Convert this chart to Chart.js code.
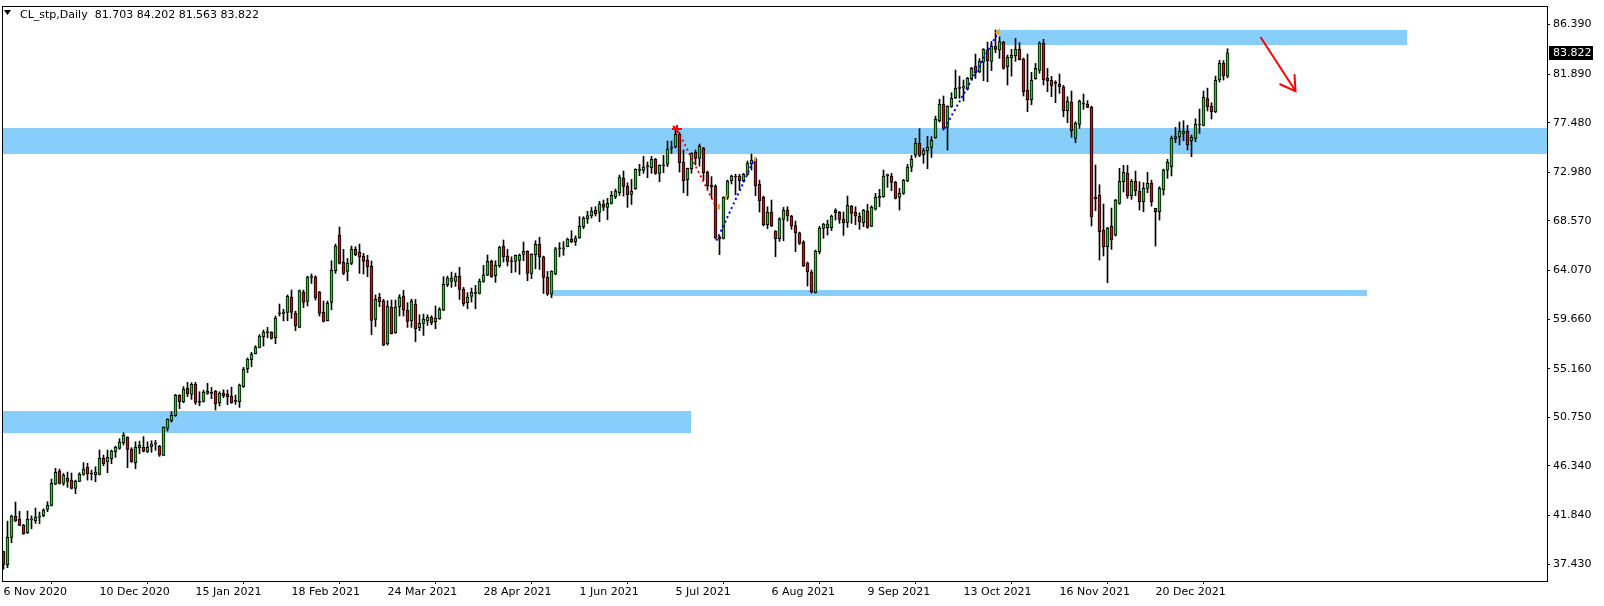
<!DOCTYPE html>
<html>
<head>
<meta charset="utf-8">
<style>
  html, body { margin: 0; padding: 0; background: #ffffff; }
  canvas { display: block; }
</style>
<script src="https://cdn.jsdelivr.net/npm/chart.js@4.4.1/dist/chart.umd.min.js"></script>
</head>
<body>
<canvas id="c" width="1604" height="606"></canvas>
<script>
// ---------------- data ----------------
const symbolName = 'CL_stp';
const periodName = 'Daily';

const opens = [38.55,37.37,39.85,41.75,41.51,40.97,40.27,41.45,41.36,41.69,
41.79,42.39,42.75,44.69,45.84,44.75,45.24,45.05,44.30,44.93,
45.57,46.20,45.66,45.54,45.57,47.05,46.69,46.99,47.63,47.93,
48.44,48.93,47.87,46.63,47.96,48.02,47.66,48.08,48.32,48.14,
47.29,49.74,50.44,50.89,52.74,52.16,53.37,52.83,53.74,52.20,
52.20,52.92,53.01,53.13,52.07,52.95,52.86,52.68,52.25,52.16,
53.52,55.16,55.98,56.52,57.10,58.06,58.43,58.49,57.97,60.15,
60.18,60.27,61.63,60.21,58.91,62.12,61.27,63.45,63.48,62.12,
60.27,59.52,61.18,64.05,67.26,64.81,63.99,64.72,65.99,65.72,
65.39,64.99,64.45,59.64,61.63,61.33,57.40,60.76,58.43,60.79,
61.75,60.48,59.50,61.03,58.88,59.27,59.50,59.85,59.42,59.70,
60.48,62.78,63.08,63.08,63.57,62.36,61.15,61.72,61.99,61.99,
63.08,63.66,64.90,63.60,64.51,66.26,65.38,64.93,64.90,64.99,
65.54,65.81,63.81,65.51,66.44,65.32,63.45,61.93,63.75,66.05,
66.02,66.23,66.90,66.69,67.05,68.05,68.77,69.02,69.53,69.35,
70.10,69.80,70.17,70.77,71.13,72.44,71.71,70.98,71.50,73.16,
73.16,73.50,73.40,74.16,72.89,73.58,73.71,75.16,75.31,76.43,
73.89,72.31,73.31,74.80,74.25,75.16,73.01,71.80,71.71,67.14,
66.99,70.71,72.22,72.62,72.65,72.22,72.80,73.74,74.19,71.92,
70.71,68.23,69.38,67.66,66.96,68.71,69.59,69.02,68.14,67.50,
66.66,64.75,63.93,62.06,65.78,67.90,67.96,67.96,69.56,69.38,
68.74,68.44,69.92,69.38,69.02,68.41,69.44,68.08,69.65,70.65,
70.77,72.68,72.65,72.10,70.71,71.07,72.19,73.46,74.55,75.61,
74.58,74.95,75.25,76.13,77.67,79.15,77.06,78.94,79.76,80.60,
80.63,80.54,81.48,82.63,82.09,82.99,84.08,83.06,84.45,84.08,
84.78,82.57,83.39,83.57,84.15,83.27,80.42,79.58,81.48,82.24,
84.69,81.51,81.33,81.12,80.97,80.73,78.58,79.37,76.07,77.34,
79.24,79.18,78.88,70.71,70.92,67.75,66.23,68.11,67.29,70.17,
72.13,72.89,70.86,72.16,71.26,70.32,71.53,71.98,69.71,69.41,
71.38,73.19,73.49,76.04,76.22,76.52,76.70,75.85,76.07,77.28,
77.25,79.67,79.00,78.46,81.36,82.87,81.703];

const highs = [38.61,41.33,41.88,43.06,42.21,41.03,42.24,41.81,42.51,42.15,
42.45,43.09,45.14,46.11,46.05,45.66,45.78,45.69,45.05,45.72,
46.63,46.57,45.96,46.26,47.78,47.32,47.78,47.78,48.14,48.80,
49.35,48.99,47.99,48.53,48.59,48.99,48.53,48.62,48.65,48.20,
49.89,50.62,51.26,52.83,52.80,53.53,53.92,53.89,53.92,53.07,
53.22,53.83,53.46,53.19,53.07,53.25,53.22,53.49,52.77,53.77,
55.28,56.13,56.64,57.25,58.25,58.67,58.91,58.52,59.94,61.03,
60.55,61.85,62.30,60.39,62.30,62.30,63.57,63.75,63.60,62.18,
61.30,61.30,64.96,66.47,68.02,65.99,65.17,66.29,66.23,66.47,
65.63,65.45,64.93,61.85,62.00,61.45,61.33,61.39,61.39,61.88,
62.27,61.15,61.48,61.45,60.06,60.12,60.06,59.97,60.85,60.70,
63.51,63.57,63.93,63.84,64.36,62.54,62.06,62.48,62.72,63.30,
64.54,65.48,65.02,64.96,66.29,66.84,65.99,65.32,65.48,65.57,
66.66,65.87,65.60,66.78,67.08,65.38,63.99,64.05,66.17,66.60,
66.69,67.02,67.68,67.23,68.96,68.96,69.44,69.80,69.86,70.35,
70.47,70.62,71.25,71.47,72.74,73.10,72.04,72.34,73.31,73.71,
74.43,73.92,74.43,74.25,73.67,74.52,75.82,75.82,76.88,76.58,
75.01,73.37,74.77,75.01,75.55,75.25,73.10,72.59,71.86,67.20,
70.77,72.28,72.74,72.80,72.80,72.89,74.01,74.64,74.31,72.28,
70.83,69.86,70.47,67.69,68.87,69.80,69.86,69.08,68.56,67.56,
66.78,64.84,64.11,65.93,68.08,68.35,68.65,69.11,69.68,69.44,
69.38,70.83,69.98,69.86,69.32,69.62,70.08,69.95,71.07,71.44,
73.19,72.83,72.89,72.16,71.53,72.34,73.71,74.52,76.07,76.94,
75.16,76.25,76.22,78.09,79.61,79.91,79.03,80.21,82.27,81.72,
81.36,81.60,82.51,83.72,83.30,84.21,84.81,84.87,85.90,85.30,
84.87,83.63,84.15,85.14,84.75,83.36,83.72,82.06,82.87,84.84,
85.05,82.42,81.69,81.30,81.91,80.88,79.85,80.36,77.58,79.55,
80.09,79.49,79.00,73.65,71.86,70.11,67.99,69.74,70.53,73.34,
73.62,73.62,72.34,73.10,72.13,72.04,72.98,72.28,69.71,71.68,
73.28,74.16,76.28,77.06,77.55,77.67,77.25,76.37,77.85,78.73,
80.36,80.63,79.30,81.72,83.15,83.12,84.202];

const lows = [36.97,37.10,39.36,41.27,40.91,40.12,40.21,40.63,41.12,41.09,
41.72,42.18,42.69,44.63,44.69,44.57,44.39,44.24,43.81,44.90,
45.48,45.05,45.05,44.90,45.51,46.36,45.72,46.54,47.11,47.84,
48.23,46.17,46.66,46.08,47.44,47.60,47.54,47.57,47.75,47.20,
47.26,49.50,50.32,50.83,51.53,52.07,52.62,52.38,51.92,51.80,
52.13,52.83,52.44,51.41,51.77,52.53,51.89,52.01,51.92,51.65,
53.46,54.80,55.34,56.49,57.04,57.21,57.97,57.85,57.43,59.94,
59.49,59.52,59.73,58.61,58.88,60.70,60.85,62.90,61.39,59.94,
59.40,59.49,60.51,63.81,64.66,63.69,63.15,64.60,65.42,63.81,
63.75,63.51,58.25,58.97,60.79,57.25,57.30,58.31,58.37,59.94,
59.94,58.91,58.91,57.61,58.61,58.18,59.09,59.15,58.79,59.64,
60.42,62.60,62.54,62.63,61.45,60.85,60.60,61.21,60.60,61.93,
62.99,63.60,63.45,62.99,64.36,64.84,64.48,63.87,63.93,63.72,
64.96,63.15,63.33,64.23,64.17,61.99,61.81,61.60,63.69,65.32,
65.45,66.23,66.60,66.35,66.99,67.87,68.35,68.83,69.02,68.50,
69.50,68.68,70.10,70.59,70.89,70.83,69.80,70.07,71.44,72.68,
72.89,72.50,72.89,72.80,72.13,72.95,73.50,74.70,75.19,73.01,
71.13,70.86,72.89,73.65,73.55,72.28,71.50,70.65,66.93,65.51,
66.93,70.53,71.92,70.95,71.38,72.10,72.71,73.19,70.86,69.38,
68.11,67.87,68.05,65.33,66.72,66.78,68.56,67.81,65.78,66.44,
64.42,62.66,62.03,62.03,65.57,66.99,67.29,67.69,68.65,68.35,
67.26,67.99,68.35,68.23,67.81,68.05,67.90,68.05,69.56,69.86,
70.71,71.62,71.32,70.56,69.56,70.98,72.13,73.04,74.34,74.40,
73.80,73.31,74.34,76.07,77.55,76.82,75.01,78.88,79.67,79.70,
79.46,80.45,81.36,81.51,82.03,81.30,81.21,82.21,83.84,83.33,
82.35,80.91,81.72,83.06,83.18,79.91,78.49,79.12,81.42,81.97,
80.91,80.30,79.85,79.30,80.15,78.03,77.49,76.16,75.67,76.97,
78.70,78.85,68.11,69.50,65.02,65.39,62.97,65.99,67.20,70.08,
71.20,70.62,70.53,70.86,69.56,69.41,71.13,69.92,66.29,68.65,
70.92,72.44,72.65,75.67,75.46,75.85,75.01,74.40,75.76,76.52,
77.19,78.55,77.82,78.40,81.18,81.36,81.563];

const closes = [37.40,39.85,41.79,41.36,40.94,40.18,41.48,41.52,41.69,41.79,
42.33,42.78,44.75,45.75,44.75,45.51,44.93,44.30,44.96,45.57,
46.05,45.63,45.60,45.78,47.02,46.54,47.11,47.69,48.02,48.50,
49.11,47.84,46.72,48.02,48.20,47.66,48.02,48.32,48.44,47.32,
49.83,50.56,50.92,52.77,52.16,53.31,52.89,53.74,52.10,52.10,
53.04,53.10,52.92,51.98,52.95,52.71,52.62,52.07,52.19,53.68,
55.10,56.01,56.49,57.13,58.12,58.49,58.46,57.91,59.76,60.18,
60.30,61.72,60.27,59.06,62.24,61.18,63.48,63.48,61.60,60.18,
59.46,61.09,64.08,66.29,64.72,63.81,64.75,65.99,65.51,65.30,
64.90,64.42,59.55,61.45,61.24,57.30,60.82,58.34,60.73,61.63,
60.48,59.46,61.30,58.79,59.27,59.64,59.85,59.33,59.73,60.54,
62.81,63.39,63.39,63.54,62.36,61.06,61.66,62.09,62.12,63.08,
63.69,64.90,63.51,64.54,66.17,65.32,64.90,64.87,65.45,65.45,
65.81,63.81,65.54,66.44,65.32,63.45,61.93,63.99,66.05,66.11,
66.14,66.90,66.66,67.02,68.08,68.80,69.05,69.47,69.23,70.13,
69.80,70.17,70.89,71.29,72.56,71.71,70.95,71.29,73.25,73.22,
73.43,73.55,74.16,72.89,73.61,73.65,75.07,75.25,76.43,73.86,
72.22,73.34,74.70,74.25,75.34,72.95,71.77,71.68,67.02,66.93,
70.71,72.19,72.65,72.56,72.22,72.83,73.83,74.10,71.77,70.41,
68.20,69.38,68.11,66.96,68.77,69.56,69.02,68.11,67.50,66.54,
64.48,63.96,62.12,65.84,67.93,68.29,68.29,69.02,69.32,68.71,
68.41,69.98,69.26,69.02,68.50,69.56,67.99,69.80,70.71,70.83,
72.65,72.74,72.07,70.62,71.07,72.26,73.46,74.16,75.61,74.52,
74.95,75.25,75.88,77.79,79.15,76.97,78.97,79.70,80.60,80.67,
80.76,81.51,82.42,82.03,83.09,84.15,83.12,84.42,84.15,84.84,
82.42,83.42,83.60,84.15,83.21,80.30,79.58,81.33,82.42,84.69,
81.39,81.30,80.85,81.06,80.76,78.58,79.46,76.76,77.43,79.43,
79.18,78.88,68.96,70.59,67.59,66.23,67.90,66.84,70.47,72.16,
72.98,70.86,72.16,71.32,70.32,71.53,71.98,70.32,69.41,71.53,
73.19,73.89,76.10,76.22,76.70,76.73,75.49,76.16,77.34,77.34,
79.79,78.94,78.49,81.33,82.87,81.75,83.822];

// date labels, one every 24 bars
const tickLabels = ['6 Nov 2020','10 Dec 2020','15 Jan 2021','18 Feb 2021','24 Mar 2021','28 Apr 2021',
  '1 Jun 2021','5 Jul 2021','6 Aug 2021','9 Sep 2021','13 Oct 2021','16 Nov 2021','20 Dec 2021'];
const tickEvery = 24;
const priceTicks = [86.390, 81.890, 77.480, 72.980, 68.570, 64.070, 59.660, 55.160, 50.750, 46.340, 41.840, 37.430];

// support / resistance zones (bar index from..to, price high..low)
const zoneFrom = [249.2, -5, 137.2, -5];
const zoneTo   = [350.9, 400, 340.9, 171.9];
const zoneHigh = [85.90, 77.00, 62.30, 51.32];
const zoneLow  = [84.57, 74.67, 61.78, 49.35];

// drawn trend lines / arrow (bar index, price)
const redTrendX = [168.6, 178.2];  const redTrendY = [76.75, 69.80];
const blueTrend1X = [178.25, 187.6]; const blueTrend1Y = [66.78, 74.10];
const blueTrend2X = [235.25, 248.75]; const blueTrend2Y = [76.97, 85.75];
const arrowX = [314.25, 323.0];   const arrowY = [85.26, 80.36];
const arrowHeadX = [319.0, 323.0, 322.75]; const arrowHeadY = [81.00, 80.36, 81.90];

// ---------------- chart ----------------
const FONT = { family: "'DejaVu Sans', Verdana, sans-serif", size: 11 };
const BULL = '#22cc22';
const BEAR = '#cc1111';
const ZONE = '#87CEFA';

const pts = (xs, ys) => xs.map((x, k) => ({ x: x, y: ys[k] }));

const bodies = opens.map((o, i) => ({ x: i, y: [o, closes[i]] }));
const wicks = opens.map((o, i) => ({ x: i, y: [lows[i], highs[i]] }));
const bodyColors = opens.map((o, i) => closes[i] >= o ? BULL : BEAR);

const overlay = {
  id: 'overlay',
  beforeDatasetsDraw(chart) {
    const { ctx, chartArea: a, scales: { x, y } } = chart;
    ctx.save();
    ctx.beginPath();
    ctx.rect(a.left, a.top, a.right - a.left, a.bottom - a.top);
    ctx.clip();
    ctx.fillStyle = ZONE;
    for (let k = 0; k < zoneFrom.length; k++) {
      const x1 = Math.round(x.getPixelForValue(zoneFrom[k]));
      const x2 = Math.round(x.getPixelForValue(zoneTo[k]));
      const y1 = Math.round(y.getPixelForValue(zoneHigh[k]));
      const y2 = Math.round(y.getPixelForValue(zoneLow[k]));
      ctx.fillRect(x1, y1, x2 - x1, y2 - y1);
    }
    ctx.restore();
  },
  afterDatasetsDraw(chart) {
    const { ctx, scales: { x, y } } = chart;
    ctx.save();
    // red marker at the July top
    let px = Math.round(x.getPixelForValue(168.4)), py = Math.round(y.getPixelForValue(76.95));
    ctx.strokeStyle = '#ff0000'; ctx.lineWidth = 2;
    ctx.beginPath();
    ctx.moveTo(px - 5, py); ctx.lineTo(px + 5, py);
    ctx.moveTo(px, py - 4); ctx.lineTo(px, py + 4);
    ctx.moveTo(px - 4, py - 3); ctx.lineTo(px - 1, py);
    ctx.stroke();
    // small orange markers
    ctx.fillStyle = '#f0a020';
    const om = [[178.7, 70.1, 69.6], [180.4, 70.9, 70.5], [187.7, 74.4, 74.0]];
    om.forEach(m => {
      const mx = Math.round(x.getPixelForValue(m[0]));
      const my1 = y.getPixelForValue(m[1]), my2 = y.getPixelForValue(m[2]);
      ctx.fillRect(mx, my1, 2, my2 - my1);
    });
    // orange left triangle at October top
    px = x.getPixelForValue(248.6); py = y.getPixelForValue(85.7);
    ctx.beginPath(); ctx.moveTo(px - 3, py); ctx.lineTo(px + 2, py - 4); ctx.lineTo(px + 2, py + 4); ctx.closePath(); ctx.fill();
    ctx.restore();
  },
  afterDraw(chart) {
    const { ctx, chartArea: a, scales: { y } } = chart;
    ctx.save();
    // frame
    ctx.strokeStyle = '#000'; ctx.lineWidth = 1;
    ctx.strokeRect(2.5, 6.5, a.right - 2, a.bottom - 6);
    // current price box
    const last = closes[closes.length - 1];
    const yy = Math.round(y.getPixelForValue(last));
    ctx.fillStyle = '#000';
    ctx.fillRect(a.right + 2, yy - 7, 44, 14);
    ctx.fillStyle = '#fff';
    ctx.font = `${FONT.size}px ${FONT.family}`;
    ctx.textBaseline = 'middle';
    ctx.textAlign = 'left';
    ctx.fillText(last.toFixed(3), a.right + 6, yy);
    // header
    ctx.fillStyle = '#000';
    ctx.beginPath(); ctx.moveTo(4, 10); ctx.lineTo(11, 10); ctx.lineTo(7.5, 15); ctx.closePath(); ctx.fill();
    const n = opens.length - 1;
    const head = `${symbolName},${periodName}  ${opens[n].toFixed(3)} ${highs[n].toFixed(3)} ${lows[n].toFixed(3)} ${closes[n].toFixed(3)}`;
    ctx.textBaseline = 'alphabetic';
    ctx.fillText(head, 20, 18);
    ctx.restore();
  }
};

const lineDs = (data, color, width, dash) => ({
  type: 'line', data: data, borderColor: color, borderWidth: width, borderDash: dash,
  pointRadius: 0, fill: false, tension: 0, order: -1
});

new Chart(document.getElementById('c'), {
  type: 'bar',
  data: {
    datasets: [
      { data: bodies, backgroundColor: bodyColors, borderColor: '#000', borderWidth: 1,
        borderSkipped: false, barThickness: 3, minBarLength: 1, grouped: false, order: 0 },
      { data: wicks, backgroundColor: '#000', borderWidth: 0, barThickness: 1, grouped: false, order: 1 },
      lineDs(pts(redTrendX, redTrendY), '#ff0000', 2, [2, 3]),
      lineDs(pts(blueTrend1X, blueTrend1Y), '#0000ff', 2, [2, 3]),
      lineDs(pts(blueTrend2X, blueTrend2Y), '#0000ff', 2, [2, 3]),
      lineDs(pts(arrowX, arrowY), '#ff0000', 2, []),
      lineDs(pts(arrowHeadX, arrowHeadY), '#ff0000', 2, [])
    ]
  },
  options: {
    responsive: false,
    animation: false,
    devicePixelRatio: 1,
    layout: { padding: { left: 3, top: 7, right: 0, bottom: 0 } },
    plugins: { legend: { display: false }, tooltip: { enabled: false } },
    scales: {
      x: {
        type: 'linear', min: -0.125, max: 385.875, offset: false,
        afterBuildTicks: s => { s.ticks = tickLabels.map((_, k) => ({ value: k * tickEvery })); },
        afterFit: s => { s.height = 25; s.paddingLeft = 0; s.paddingRight = 0; },
        ticks: {
          callback: v => tickLabels[Math.round(v / tickEvery)],
          align: 'start', maxRotation: 0, minRotation: 0, autoSkip: false,
          color: '#000', padding: 2, font: FONT
        },
        grid: { drawOnChartArea: false, drawTicks: true, tickLength: 3, color: '#000' },
        border: { display: false }
      },
      y: {
        position: 'right', min: 35.89, max: 87.99,
        afterBuildTicks: s => { s.ticks = priceTicks.map(v => ({ value: v })); },
        afterFit: s => { s.width = 57; s.paddingTop = 0; s.paddingBottom = 0; },
        ticks: { callback: v => v.toFixed(3), color: '#000', padding: 3, font: FONT },
        grid: { drawOnChartArea: false, drawTicks: true, tickLength: 3, color: '#000' },
        border: { display: false }
      }
    }
  },
  plugins: [overlay]
});
</script>
</body>
</html>
